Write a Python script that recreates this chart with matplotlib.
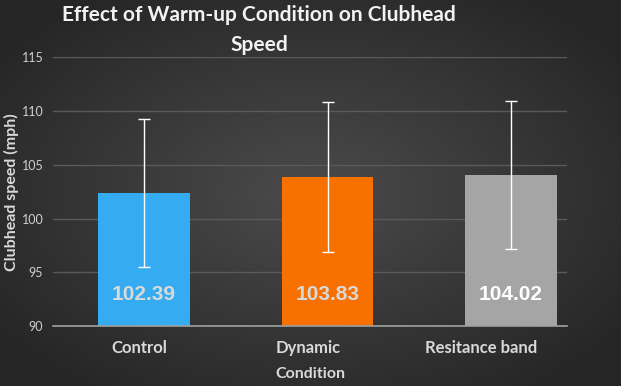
import numpy as np
import matplotlib
matplotlib.use("Agg")
import matplotlib.pyplot as plt

categories = ["Control", "Dynamic", "Resitance band"]
means = [102.39, 103.83, 104.02]
errors = [6.87, 6.98, 6.87]
bar_colors = ["#35ABF2", "#F77000", "#A5A5A5"]
label_colors = ["#D9D9D9", "#D9D9D9", "#FFFFFF"]
yticks = [90, 95, 100, 105, 110, 115]

W, H = 621, 386
fig = plt.figure(figsize=(W / 100, H / 100), dpi=100)

# radial gradient background
bg = fig.add_axes([0, 0, 1, 1], zorder=-10)
yy, xx = np.mgrid[0:H, 0:W]
cx, cy = W * 0.5, H * 0.5
r = np.sqrt(((xx - cx) / (W * 0.62)) ** 2 + ((yy - cy) / (H * 0.62)) ** 2)
r = np.clip(r, 0, 1)
inner = np.array([0x4B, 0x4B, 0x4B]) / 255
outer = np.array([0x26, 0x26, 0x26]) / 255
img = inner[None, None, :] * (1 - r[..., None]) + outer[None, None, :] * r[..., None]
bg.imshow(img, aspect="auto", extent=[0, 1, 0, 1])
bg.axis("off")

ax = fig.add_axes([53 / W, (H - 326) / H, (567 - 53) / W, (326 - 57.3) / H])
ax.patch.set_alpha(0)
x = np.arange(len(categories))
ax.bar(x, [m - 90 for m in means], bottom=90, width=0.5, color=bar_colors, zorder=3)
ax.errorbar(x, means, yerr=errors, fmt="none", ecolor="white", elinewidth=1,
            capsize=4, capthick=1, zorder=4)
for xi, m, c in zip(x, means, label_colors):
    ax.text(xi, 92.9, f"{m:.2f}", ha="center", va="center", color=c,
            fontsize=15, fontweight="bold", family="Liberation Sans", zorder=5)

ax.set_ylim(90, 115)
ax.set_xlim(-0.496, 2.305)
ax.set_yticks(yticks)
# category labels sit slightly left of bar centres in the reference
ax.set_xticks(x + np.array([-0.027, -0.106, -0.164]))
ax.set_xticklabels(categories, fontsize=12, fontweight="bold", color="#D9D9D9", family="Lato")
for lbl in ax.get_yticklabels():
    lbl.set_fontsize(9)
    lbl.set_color("#D0D0D0")
    lbl.set_family("Lato")
ax.tick_params(axis="both", length=0)
ax.tick_params(axis="y", pad=7)
ax.tick_params(axis="x", pad=10)
ax.grid(axis="y", color="#5A5A5A", linewidth=1, zorder=0)
for s in ["top", "right", "left"]:
    ax.spines[s].set_visible(False)
ax.spines["bottom"].set_color("#A0A0A0")
ax.spines["bottom"].set_linewidth(1.2)
ax.spines["bottom"].set_zorder(5)

ax.set_ylabel("Clubhead speed (mph)", fontsize=11.5, fontweight="bold", color="#D9D9D9",
              family="Lato", va="center")
ax.yaxis.set_label_coords((11.5 - 53) / (567 - 53), 0.5)
ax.set_xlabel("Condition", fontsize=11.5, fontweight="bold", color="#D9D9D9", family="Lato",
              va="center")
ax.xaxis.set_label_coords((310 - 53) / (567 - 53), -0.178)

fig.text(259 / W, 1 - 30 / H, "Effect of Warm-up Condition on Clubhead\nSpeed", ha="center",
         va="center", fontsize=15, fontweight="bold", color="#F2F2F2", family="Lato",
         linespacing=1.6)

fig.savefig("out.png", dpi=100)
